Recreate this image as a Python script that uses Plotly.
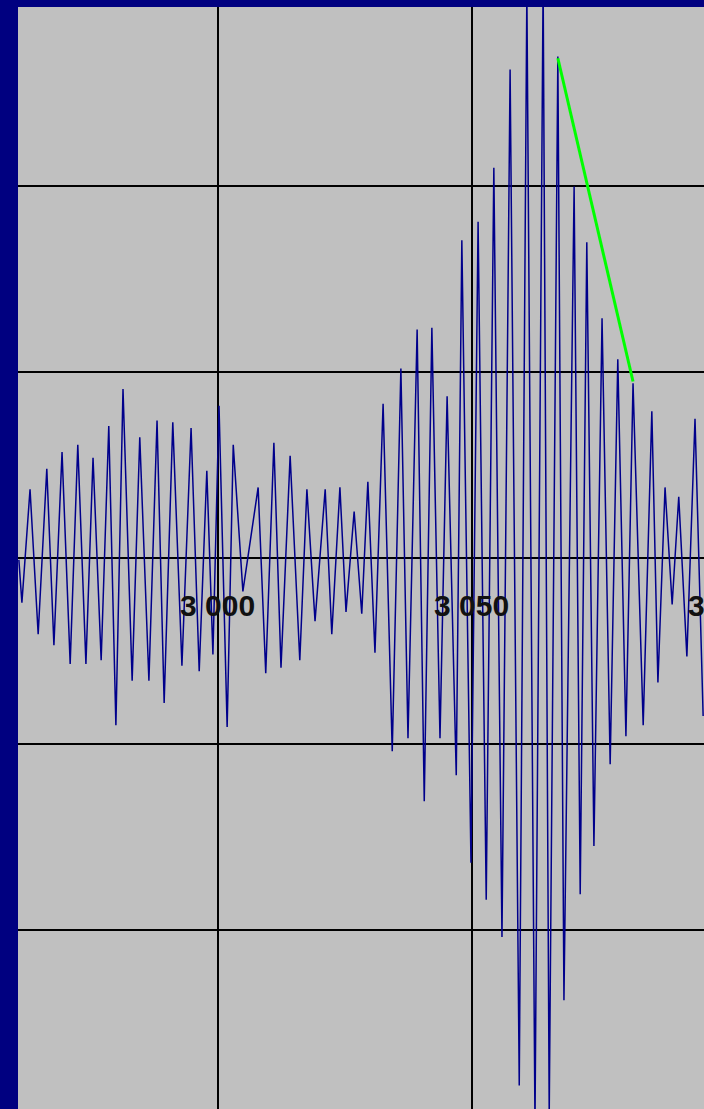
import plotly.graph_objects as go

# Waveform extrema (time, amplitude)
t = [2960.8, 2961.4, 2963.0, 2964.6, 2966.3, 2967.7, 2969.3, 2970.9, 2972.4, 2974.0,
     2975.4, 2977.0, 2978.5, 2979.9, 2981.3, 2983.1, 2984.6, 2986.4, 2988.0, 2989.4,
     2991.1, 2992.9, 2994.7, 2996.3, 2997.8, 2999.0, 3000.2, 3001.8, 3003.0, 3004.9,
     3007.9, 3009.4, 3011.0, 3012.4, 3014.2, 3016.1, 3017.5, 3019.1, 3021.1, 3022.4,
     3024.0, 3025.2, 3026.8, 3028.3, 3029.5, 3030.9, 3032.5, 3034.3, 3036.0, 3037.4,
     3039.2, 3040.6, 3042.1, 3043.7, 3045.1, 3046.9, 3048.0, 3049.8, 3051.2, 3052.8,
     3054.3, 3055.9, 3057.5, 3059.3, 3060.8, 3062.4, 3064.0, 3065.2, 3066.9, 3068.1,
     3070.1, 3071.3, 3072.6, 3074.0, 3075.6, 3077.2, 3078.7, 3080.3, 3081.7, 3083.7,
     3085.4, 3086.6, 3088.0, 3089.4, 3090.7, 3092.3, 3093.9, 3095.5]
amp = [-0.01, -0.24, 0.37, -0.41, 0.48, -0.47, 0.57, -0.57, 0.61, -0.57,
       0.54, -0.55, 0.71, -0.90, 0.91, -0.66, 0.65, -0.66, 0.74, -0.78,
       0.73, -0.58, 0.70, -0.61, 0.47, -0.52, 0.82, -0.91, 0.61, -0.18,
       0.38, -0.62, 0.62, -0.59, 0.55, -0.55, 0.37, -0.34, 0.37, -0.41,
       0.38, -0.29, 0.25, -0.30, 0.41, -0.51, 0.83, -1.04, 1.02, -0.97,
       1.23, -1.31, 1.24, -0.97, 0.87, -1.17, 1.71, -1.64, 1.81, -1.84,
       2.10, -2.04, 2.63, -2.84, 3.05, -3.05, 3.10, -3.00, 2.70, -2.38,
       2.00, -1.81, 1.70, -1.55, 1.29, -1.11, 1.07, -0.96, 0.94, -0.90,
       0.79, -0.67, 0.38, -0.25, 0.33, -0.53, 0.75, -0.85]

# Green marker segment
green_t = [3066.9, 3081.7]
green_amp = [2.69, 0.95]

# Axis ticks
tick_vals = [3000, 3050, 3100]
tick_text = ["3 000", "3 050", "3 100"]

X0, X1 = 2960.63, 3095.67
Y0, Y1 = -2.966, 2.966

fig = go.Figure()
fig.add_trace(go.Scatter(x=t, y=amp, mode="lines",
                         line=dict(color="#00008b", width=1.5),
                         hoverinfo="skip", showlegend=False))
fig.add_trace(go.Scatter(x=green_t, y=green_amp, mode="lines",
                         line=dict(color="#00ff00", width=3),
                         hoverinfo="skip", showlegend=False))

for v, s in zip(tick_vals, tick_text):
    fig.add_annotation(x=(v - X0) / (X1 - X0), xref="paper", y=0, yref="y",
                       text="<b>" + s + "</b>", showarrow=False,
                       xanchor="center", yanchor="middle", yshift=-47,
                       font=dict(family="Liberation Sans, Arial, sans-serif",
                                 size=30, color="#111111"))

fig.update_layout(
    width=704, height=1109,
    margin=dict(l=18, r=0, t=7, b=0),
    paper_bgcolor="#000080",
    plot_bgcolor="#c0c0c0",
    xaxis=dict(range=[X0, X1], tickvals=tick_vals[:2], showticklabels=False,
               showgrid=True, gridcolor="#000000", gridwidth=2,
               zeroline=False, showline=False, ticks=""),
    yaxis=dict(range=[Y0, Y1], dtick=1, tick0=0, showticklabels=False,
               showgrid=True, gridcolor="#000000", gridwidth=2,
               zeroline=False, showline=False, ticks=""),
)

fig.write_html("out.html")
